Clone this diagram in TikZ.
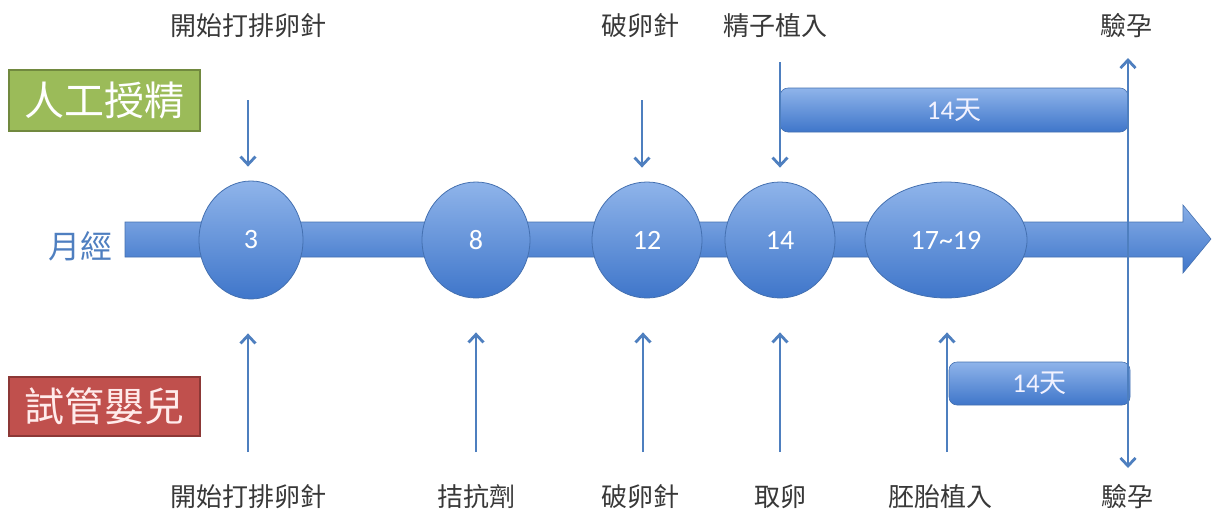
\documentclass[tikz,border=0pt]{standalone}
\usepackage{fontspec}
\setmainfont{Carlito}
\newfontfamily\cjk{Noto Sans CJK TC}
\usetikzlibrary{shapes.geometric,arrows.meta}
\definecolor{blueL}{HTML}{8FB4EA}
\definecolor{blueD}{HTML}{3F76CA}
\definecolor{blueB}{HTML}{4470B0}
\definecolor{arrowc}{HTML}{4E7FBF}
\definecolor{greenF}{HTML}{9BBB59}
\definecolor{greenB}{HTML}{71893F}
\definecolor{redF}{HTML}{C0504D}
\definecolor{redB}{HTML}{8C3836}
\definecolor{monthc}{HTML}{4F7FC0}
\tikzset{
  lab/.style={font=\cjk\fontsize{26}{28}\selectfont, text=black!78, inner sep=0pt},
  blob/.style={ellipse, draw=blueB, line width=0.8pt, top color=blueL, bottom color=blueD,
    text=white, font=\fontsize{28}{30}\selectfont, inner sep=0pt},
  bar/.style={draw=blueB, line width=0.6pt, rounded corners=8pt, top color=blueL, bottom color=blueD,
    text=white!95!blue, font=\fontsize{27}{29}\selectfont, inner sep=0pt},
  tagbox/.style={line width=1.2pt, font=\cjk\fontsize{40}{42}\selectfont, inner sep=0pt},
  tip/.tip={Straight Barb[length=8pt,width=15pt]},
  arr/.style={draw=arrowc, line width=2.8pt, -tip},
  arr2/.style={draw=arrowc, line width=2.8pt, tip-tip}
}
\begin{document}
\begin{tikzpicture}[x=1pt,y=-1pt]
\useasboundingbox (0,0) rectangle (1213,512);
% main timeline arrow
\path[top color=blueL!90!blueD, bottom color=blueD, draw=blueB, line width=0.6pt]
  (125,222) -- (1183,222) -- (1183,205) -- (1211,239) -- (1183,273) -- (1183,257) -- (125,257) -- cycle;
% day nodes
\node[blob, minimum width=104, minimum height=118] (c3) at (251,240) {3};
\node[blob, minimum width=108, minimum height=116] (c8) at (476,240) {8};
\node[blob, minimum width=110, minimum height=116] (c12) at (647,240) {12};
\node[blob, minimum width=110, minimum height=116] (c14) at (780,240) {14};
\node[blob, minimum width=162, minimum height=116] (c17) at (946,240) {17\textasciitilde19};
% duration bars
\node[bar, minimum width=348, minimum height=44] (b1) at (954,110) {14{\cjk 天}};
\node[bar, minimum width=181, minimum height=43] (b2) at (1039.5,383.5) {14{\cjk 天}};
% side labels
\node[tagbox, fill=greenF, draw=greenB, text=white, minimum width=191, minimum height=61] (ai) at (104.5,100.5) {人工授精};
\node[tagbox, fill=redF, draw=redB, text=white!92!red, minimum width=191, minimum height=59] (ivf) at (104.5,406.5) {試管嬰兒};
\node[font=\cjk\fontsize{32}{34}\selectfont, text=monthc, inner sep=0pt] (mc) at (80,246) {月經};
% top labels
\node[lab] (t1) at (248,26) {開始打排卵針};
\node[lab] (t2) at (640,26) {破卵針};
\node[lab] (t3) at (775,26) {精子植入};
\node[lab] (t4) at (1126,26) {驗孕};
% bottom labels
\node[lab] (u1) at (248,497) {開始打排卵針};
\node[lab] (u2) at (476,497) {拮抗劑};
\node[lab] (u3) at (640,497) {破卵針};
\node[lab] (u4) at (780,497) {取卵};
\node[lab] (u5) at (940,497) {胚胎植入};
\node[lab] (u6) at (1127,497) {驗孕};
% top arrows
\coordinate (ta1) at (248,100);
\coordinate (ta2) at (642,100);
\coordinate (ta3) at (780,62);
\draw[arr, shorten >=14pt] (ta1) -- (ta1 |- c3.north);
\draw[arr, shorten >=14pt] (ta2) -- (ta2 |- c12.north);
\draw[arr, shorten >=14pt] (ta3) -- (ta3 |- c14.north);
% bottom arrows
\coordinate (ba1) at (248,452);
\coordinate (ba2) at (476,452);
\coordinate (ba3) at (643,452);
\coordinate (ba4) at (780,452);
\coordinate (ba5) at (947,452);
\draw[arr, shorten >=34pt] (ba1) -- (ba1 |- c3.south);
\draw[arr, shorten >=34pt] (ba2) -- (ba2 |- c8.south);
\draw[arr, shorten >=34pt] (ba3) -- (ba3 |- c12.south);
\draw[arr, shorten >=34pt] (ba4) -- (ba4 |- c14.south);
\draw[arr, shorten >=34pt] (ba5) -- (ba5 |- c17.south);
% pregnancy test line
\coordinate (vt) at (1128,58);
\coordinate (vb) at (1128,468);
\draw[arr2] (vt) -- (vb);
\end{tikzpicture}
\end{document}
